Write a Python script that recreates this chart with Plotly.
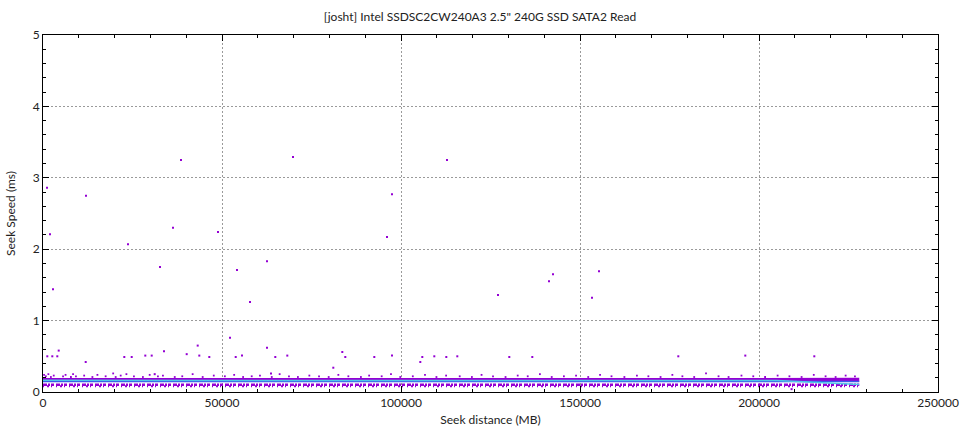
import plotly.graph_objects as go

TITLE = "[josht] Intel SSDSC2CW240A3 2.5\" 240G SSD SATA2 Read"
PURPLE = "#9400D3"

# isolated outlier reads (MB, ms)
out_x = [1117, 12011, 38547, 69833, 112850, 1955, 23743, 36313, 48883, 32682,
         54190, 57821, 62570, 97487, 96090, 127095, 141340, 142457, 153352, 155307,
         2793, 52235, 33799, 43213, 1201, 2598, 3994, 4386, 11927, 22710,
         24777, 28575, 30363, 40140, 43660, 46453, 53827, 55587, 62570, 64889,
         68240, 83603, 84441, 81089, 92543, 97487, 105950, 105391, 109302, 112654,
         115726, 130251, 136676, 177459, 196174, 215448, 63687, 31201, 209100]
out_y = [2.86, 2.75, 3.25, 3.29, 3.25, 2.21, 2.07, 2.30, 2.24, 1.75,
         1.71, 1.26, 1.83, 2.77, 2.17, 1.36, 1.55, 1.65, 1.32, 1.69,
         1.44, 0.76, 0.57, 0.65, 0.50, 0.50, 0.50, 0.58, 0.42, 0.49,
         0.49, 0.51, 0.51, 0.53, 0.51, 0.49, 0.49, 0.51, 0.62, 0.49,
         0.51, 0.56, 0.49, 0.34, 0.49, 0.51, 0.49, 0.42, 0.50, 0.49,
         0.50, 0.49, 0.49, 0.50, 0.51, 0.50, 0.26, 0.25, 0.04]

# sparse reads just above the main band
hi_x = [300, 800, 1500, 2200, 3000, 5600, 6300, 7800, 8400, 9200, 11500, 13800, 15200,
        17500, 19600, 20300, 21700, 23300, 25400, 27900, 29800, 32100, 33500, 36800,
        38900, 41800, 44600, 47700, 50800, 53400, 55900, 58300, 60600, 63900, 66100,
        68700, 71200, 74400, 77100, 79800, 82500, 85300, 88800, 91100, 94600, 97200,
        99800, 103300, 106700, 109900, 112600, 116400, 119800, 122500, 125700, 129200,
        132600, 135400, 138800, 142100, 145500, 148900, 152300, 155600, 158800, 162400,
        165900, 169100, 172500, 175800, 178600, 181900, 185200, 188700, 191500, 195100,
        198400, 201700, 205200, 208500, 211900, 215300, 218600, 221400, 224200, 226800]
hi_y = [0.24, 0.22, 0.25, 0.21, 0.23, 0.22, 0.24, 0.21, 0.25, 0.22, 0.23, 0.21, 0.24,
        0.22, 0.26, 0.21, 0.23, 0.25, 0.22, 0.21, 0.24, 0.22, 0.23, 0.21, 0.22, 0.25,
        0.21, 0.23, 0.22, 0.24, 0.21, 0.22, 0.23, 0.21, 0.25, 0.22, 0.21, 0.23, 0.22,
        0.21, 0.24, 0.22, 0.21, 0.23, 0.22, 0.25, 0.21, 0.22, 0.24, 0.21, 0.23, 0.22,
        0.21, 0.24, 0.22, 0.21, 0.23, 0.22, 0.25, 0.21, 0.22, 0.23, 0.21, 0.24, 0.22,
        0.21, 0.23, 0.22, 0.21, 0.24, 0.22, 0.21, 0.26, 0.22, 0.21, 0.23, 0.22, 0.21,
        0.23, 0.22, 0.21, 0.24, 0.22, 0.21, 0.23, 0.22]

# dense bands of reads
band_x = [0, 228000]
band_hi_y = [0.168, 0.170]
band_lo1_y = [0.100, 0.100]
band_lo2_y = [0.082, 0.082]
avg_x = [0, 60000, 120000, 180000, 205000, 228000]
avg_cyan_y = [0.163, 0.163, 0.162, 0.162, 0.160, 0.105]
avg_blue_y = [0.148, 0.148, 0.148, 0.148, 0.148, 0.148]

x_ticks = [0, 50000, 100000, 150000, 200000, 250000]
y_ticks = [0, 1, 2, 3, 4, 5]

fig = go.Figure()
fig.add_trace(go.Scatter(x=band_x, y=band_lo1_y, mode="lines",
                         line=dict(color=PURPLE, width=2.5, dash="4px,1px,2px,1px,3px,2px")))
fig.add_trace(go.Scatter(x=band_x, y=band_lo2_y, mode="lines",
                         line=dict(color=PURPLE, width=2, dash="1px,3px,2px,2px,1px,4px")))
fig.add_trace(go.Scatter(x=band_x, y=band_hi_y, mode="lines",
                         line=dict(color=PURPLE, width=4)))
fig.add_trace(go.Scatter(x=avg_x, y=avg_blue_y, mode="lines",
                         line=dict(color="#3a5ae8", width=1.5)))
fig.add_trace(go.Scatter(x=avg_x, y=avg_cyan_y, mode="lines",
                         line=dict(color="#4fc8e8", width=1.5)))
fig.add_trace(go.Scatter(x=hi_x, y=hi_y, mode="markers",
                         marker=dict(color=PURPLE, size=1.8, symbol="square", line=dict(width=0))))
fig.add_trace(go.Scatter(x=out_x, y=out_y, mode="markers",
                         marker=dict(color=PURPLE, size=2, symbol="square", line=dict(width=0))))

axis_common = dict(
    showline=True, linecolor="black", linewidth=1, mirror="ticks",
    ticks="inside", ticklen=6, tickcolor="black", automargin=False,
    showgrid=True, gridcolor="#9a9a9a", griddash="2px,2px", gridwidth=1,
    zeroline=False, tickfont=dict(size=12, color="#222"),
)
fig.update_xaxes(range=[0, 250000], tickvals=x_ticks, ticktext=[str(v) for v in x_ticks],
                 minor=dict(dtick=10000, ticks="inside", ticklen=3, tickcolor="black", showgrid=False),
                 title=dict(text="Seek distance (MB)", font=dict(size=12, color="#222"), standoff=6),
                 **axis_common)
fig.update_yaxes(range=[0, 5], tickvals=y_ticks, ticktext=[str(v) for v in y_ticks],
                 minor=dict(dtick=0.2, ticks="inside", ticklen=3, tickcolor="black", showgrid=False),
                 title=dict(text="Seek Speed (ms)", font=dict(size=12, color="#222"), standoff=14),
                 **axis_common)
fig.update_layout(
    width=960, height=432,
    margin=dict(l=43, r=22, t=35, b=40, autoexpand=False),
    paper_bgcolor="white", plot_bgcolor="white",
    font=dict(family="Lato, 'Noto Sans', sans-serif", size=12, color="#222"),
    title=dict(text=TITLE, x=0.5, xanchor="center", y=0.96, yanchor="middle",
               font=dict(size=12, color="#222"), automargin=False),
    showlegend=False,
)
fig.write_html("out.html", config={"displayModeBar": False},
               post_script="document.body.style.margin='0';document.body.style.overflow='hidden';")
